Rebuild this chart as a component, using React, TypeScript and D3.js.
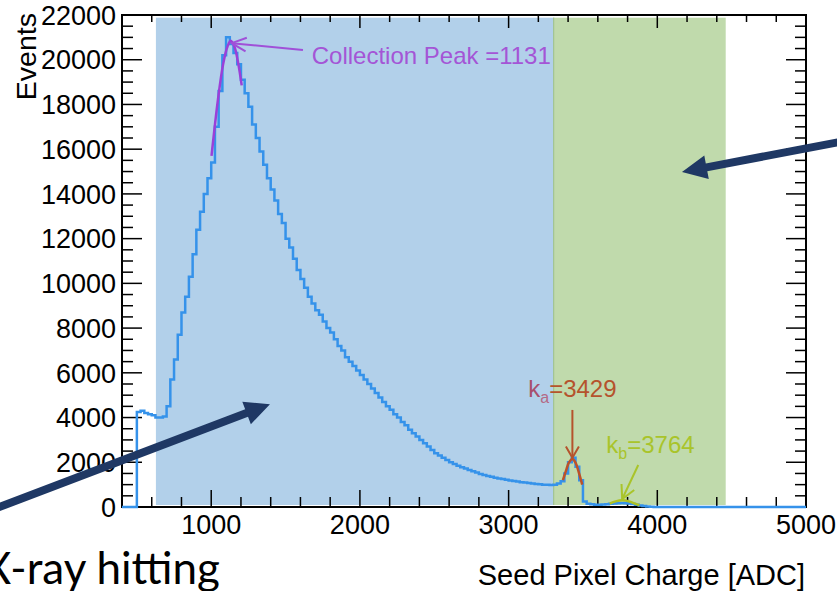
import React, { useEffect, useRef } from 'react'
import * as d3 from 'd3'

const width = 837
const height = 591

// histogram, 25 ADC bins starting at 500 ADC
const binStart = 500
const binWidth = 25
const binCounts = [
    4250, 4300, 4200, 4150, 4100, 4000, 4000, 4050, 4500, 5700,
    6600, 7700, 8700, 9400, 10300, 11300, 12400, 13200, 14000, 14700,
    15400, 17000, 18600, 20200, 21000, 20700, 20300, 19800, 19100, 18500,
    17900, 17100, 16500, 15900, 15300, 14700, 14200, 13700,
    13100, 12700, 12000, 11600, 11100, 10600, 10200, 9800, 9400, 9100,
    8800, 8600, 8300, 8000, 7800, 7500, 7200, 7000, 6700, 6500,
    6300, 6100, 5900, 5700, 5500, 5300, 5100, 4900, 4700, 4500,
    4350, 4150, 4000, 3800, 3650, 3450, 3300, 3150, 3000, 2850,
    2700, 2550, 2400, 2300, 2200, 2100, 2000, 1920, 1850, 1780,
    1720, 1650, 1600, 1540, 1480, 1430, 1390, 1350, 1310, 1280,
    1250, 1220, 1190, 1160, 1140, 1110, 1090, 1070, 1050, 1030,
    1020, 1000, 990, 980, 990, 1050, 1150, 1500, 2000, 2200,
    1800, 1200, 250, 150, 120, 100, 100, 110, 120, 140,
    160, 170, 180, 170, 160, 130, 100, 70, 40, 20,
    10, 0
]

const xDomain = [400, 5000]
const yDomain = [0, 22000]
const xTicks = [1000, 2000, 3000, 4000, 5000]
const yTicks = [0, 2000, 4000, 6000, 8000, 10000, 12000, 14000, 16000, 18000, 20000, 22000]

// fitted peaks
const peakFit = [[1002, 15700], [1045, 18200], [1080, 19800], [1110, 20600], [1131, 20850], [1155, 20600], [1180, 19900], [1205, 18850]]
const kaFit = [[3365, 1200], [3385, 1600], [3405, 1980], [3429, 2150], [3450, 1980], [3472, 1550], [3495, 1000]]
const kbFit = [[3680, 150], [3720, 250], [3764, 300], [3810, 250], [3850, 150], [3880, 80]]

// shaded regions (ADC) and their vertical extent (events)
const blueBand = [628, 3300]
const greenBand = [3300, 4460]
const bandEvents = [90, 21880]

const FONT = '"Liberation Sans", Arial, sans-serif'

function App() {
    const ref = useRef(null)

    useEffect(() => {
        const svg = d3.select(ref.current)
        svg.selectAll('*').remove()

        const x = d3.scaleLinear().domain(xDomain).range([122, 806])
        const y = d3.scaleLinear().domain(yDomain).range([507, 15])

        // background bands
        svg.append('rect')
            .attr('x', x(blueBand[0])).attr('y', y(bandEvents[1]))
            .attr('width', x(blueBand[1]) - x(blueBand[0]) + 1)
            .attr('height', y(bandEvents[0]) - y(bandEvents[1]))
            .attr('fill', '#b2d0ea')
        svg.append('rect')
            .attr('x', x(greenBand[0])).attr('y', y(bandEvents[1]))
            .attr('width', x(greenBand[1]) - x(greenBand[0]))
            .attr('height', y(bandEvents[0]) - y(bandEvents[1]))
            .attr('fill', '#c0daac')
        svg.append('line')
            .attr('x1', x(greenBand[0]) + 0.5).attr('x2', x(greenBand[0]) + 0.5)
            .attr('y1', y(bandEvents[1])).attr('y2', y(bandEvents[0]))
            .attr('stroke', '#9cbf8c').attr('stroke-width', 1)

        // axis frame + ticks
        const frame = svg.append('g').attr('stroke', '#000')
        const xMinor = d3.range(xDomain[0], xDomain[1] + 1, 200)
        const yMinor = d3.range(yDomain[0], yDomain[1] + 1, 500)
        xMinor.forEach(v => {
            const major = v % 1000 === 0
            frame.append('line')
                .attr('x1', x(v)).attr('x2', x(v))
                .attr('y1', y(0)).attr('y2', y(0) - (major ? 17 : 10))
                .attr('stroke-width', 1.5)
            frame.append('line')
                .attr('x1', x(v)).attr('x2', x(v))
                .attr('y1', y(22000)).attr('y2', y(22000) + (major ? 13 : 7))
                .attr('stroke-width', 1.5)
        })
        yMinor.forEach(v => {
            const major = v % 2000 === 0
            frame.append('line')
                .attr('x1', x(400)).attr('x2', x(400) + (major ? 20 : 11))
                .attr('y1', y(v)).attr('y2', y(v))
                .attr('stroke-width', 1.5)
            frame.append('line')
                .attr('x1', x(5000)).attr('x2', x(5000) - (major ? 20 : 11))
                .attr('y1', y(v)).attr('y2', y(v))
                .attr('stroke-width', 1.5)
        })
        frame.append('rect')
            .attr('x', x(400)).attr('y', y(22000))
            .attr('width', x(5000) - x(400)).attr('height', y(0) - y(22000))
            .attr('fill', 'none').attr('stroke-width', 2)

        // histogram
        const pts = [[xDomain[0], 0]]
        binCounts.forEach((c, i) => pts.push([binStart + i * binWidth, c]))
        pts.push([binStart + binCounts.length * binWidth, 0])
        pts.push([xDomain[1], 0])
        const step = d3.line().x(d => x(d[0])).y(d => y(d[1])).curve(d3.curveStepAfter)
        svg.append('path')
            .attr('d', step(pts))
            .attr('fill', 'none')
            .attr('stroke', '#3592ea')
            .attr('stroke-width', 2.5)

        // fits
        const smooth = d3.line().x(d => x(d[0])).y(d => y(d[1])).curve(d3.curveCatmullRom)
        const fits = [[peakFit, '#9b40d8'], [kaFit, '#bd5228'], [kbFit, '#aec224']]
        fits.forEach(([data, color]) => {
            svg.append('path')
                .attr('d', smooth(data))
                .attr('fill', 'none')
                .attr('stroke', color)
                .attr('stroke-width', 2.5)
        })

        // tick labels
        svg.append('g').selectAll('text')
            .data(xTicks).join('text')
            .attr('x', d => x(d)).attr('y', 534)
            .attr('text-anchor', 'middle')
            .attr('font-family', FONT).attr('font-size', 27)
            .text(d => d)
        svg.append('g').selectAll('text')
            .data(yTicks).join('text')
            .attr('x', 116).attr('y', d => y(d))
            .attr('dy', '0.36em')
            .attr('text-anchor', 'end')
            .attr('font-family', FONT).attr('font-size', 27)
            .text(d => d)

        // axis titles
        svg.append('text')
            .attr('transform', 'translate(36,13) rotate(-90)')
            .attr('text-anchor', 'end')
            .attr('font-family', FONT).attr('font-size', 28.5)
            .text('Events')
        svg.append('text')
            .attr('x', 805).attr('y', 585)
            .attr('text-anchor', 'end')
            .attr('font-family', FONT).attr('font-size', 29)
            .text('Seed Pixel Charge [ADC]')

        // thin annotation arrows with open heads
        const openArrow = (from, to, color, head, angle) => {
            const x1 = x(from[0]), y1 = y(from[1]), x2 = x(to[0]), y2 = y(to[1])
            const a = Math.atan2(y1 - y2, x1 - x2)
            const g = svg.append('g').attr('stroke', color).attr('stroke-width', 2).attr('fill', 'none')
            g.append('line').attr('x1', x1).attr('y1', y1).attr('x2', x2).attr('y2', y2)
            const r = angle * Math.PI / 180
            g.append('path').attr('d',
                `M${x2 + head * Math.cos(a + r)},${y2 + head * Math.sin(a + r)}L${x2},${y2}L${x2 + head * Math.cos(a - r)},${y2 + head * Math.sin(a - r)}`)
        }

        openArrow([1617, 20440], [1138, 20740], '#a050d8', 16, 25)
        svg.append('text')
            .attr('x', x(1676)).attr('y', y(19800))
            .attr('font-family', FONT).attr('font-size', 24)
            .attr('fill', '#a455d6')
            .text('Collection Peak =1131')

        openArrow([3429, 4340], [3429, 2200], '#b5532c', 13, 30)
        const ka = svg.append('text')
            .attr('x', x(3429)).attr('y', y(4920))
            .attr('text-anchor', 'middle')
            .attr('font-family', FONT).attr('font-size', 24)
        ka.append('tspan').attr('fill', '#a84f6e').text('k')
        ka.append('tspan').attr('fill', '#b46a86').attr('font-size', 16).attr('dy', 6).text('a')
        ka.append('tspan').attr('fill', '#b5532c').attr('dy', -6).text('=3429')

        openArrow([3872, 1880], [3764, 360], '#a9c42a', 15, 28)
        const kb = svg.append('text')
            .attr('x', x(3954)).attr('y', y(2400))
            .attr('text-anchor', 'middle')
            .attr('font-family', FONT).attr('font-size', 24)
            .attr('fill', '#a9c42a')
        kb.append('tspan').text('k')
        kb.append('tspan').attr('font-size', 16).attr('dy', 6).text('b')
        kb.append('tspan').attr('dy', -6).text('=3764')

        // slide arrows
        const blockArrow = (from, to) => {
            const x1 = x(from[0]), y1 = y(from[1]), x2 = x(to[0]), y2 = y(to[1])
            const L = Math.hypot(x2 - x1, y2 - y1)
            const ux = (x2 - x1) / L, uy = (y2 - y1) / L
            const nx = -uy, ny = ux
            const sw = 4, hw = 12, hl = 25
            const bx = x2 - ux * hl, by = y2 - uy * hl
            const p = [
                [x1 + nx * sw, y1 + ny * sw],
                [bx + nx * sw, by + ny * sw],
                [bx + nx * hw, by + ny * hw],
                [x2, y2],
                [bx - nx * hw, by - ny * hw],
                [bx - nx * sw, by - ny * sw],
                [x1 - nx * sw, y1 - ny * sw]
            ]
            svg.append('polygon')
                .attr('points', p.map(d => d.join(',')).join(' '))
                .attr('fill', '#1f3864')
        }
        blockArrow([-555, -330], [1395, 4600])
        blockArrow([5296, 16410], [4166, 14980])

        // caption from the slide, cut off at the left edge as in the source
        svg.append('text')
            .attr('x', 220).attr('y', 584)
            .attr('text-anchor', 'end')
            .attr('font-family', 'Lato, "Open Sans", sans-serif')
            .attr('font-size', 44)
            .text('X-ray hitting')
    }, [])

    return (
        <div style={{ position: 'absolute', left: 0, top: 0 }}>
            <svg ref={ref} width={width} height={height} style={{ display: 'block', background: '#fff' }} />
        </div>
    )
}

export default App
